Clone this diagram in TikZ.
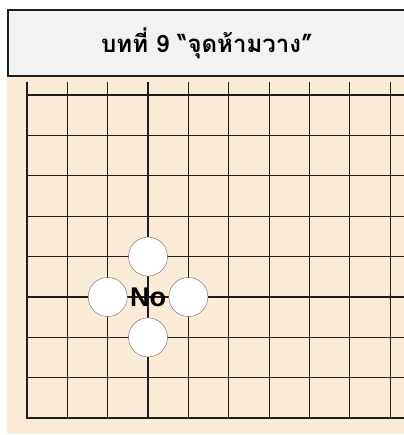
\documentclass[tikz,border=0pt]{standalone}
\usepackage{fontspec}
\setmainfont{Liberation Sans}
\newfontfamily\thaifont[Script=Thai]{Loma}
\usepackage{xcolor}
\usetikzlibrary{positioning}
\definecolor{plateau}{HTML}{FAEBD7}
\definecolor{titrefond}{HTML}{F2F2F2}
\definecolor{trait}{HTML}{1E1E1E}

\tikzset{
  pierre/.style={circle, draw=black!60, fill=white, minimum size=39pt, inner sep=0pt},
  ligne/.style={trait, line width=1.2pt}
}

\begin{document}
\begin{tikzpicture}[x=1pt, y=-1pt]
    \useasboundingbox (0,0) rectangle (403,435);
    % Titre
    \draw[fill=titrefond, draw=trait, line width=1.6pt] (8,10) rectangle (412,76);
    \node[font=\thaifont\bfseries\fontsize{24}{28}\selectfont] (titre) at (207,43) {บทที่ 9 “จุดห้ามวาง”};
    % Plateau
    \fill[plateau] (7,77) rectangle (412,434);
    \foreach \i in {0,...,9} {
      \draw[ligne] (27+40.35*\i, 82) -- (27+40.35*\i, 418);
    }
    \foreach \j in {0,...,8} {
      \draw[ligne] (27, 95+40.4*\j) -- (412, 95+40.4*\j);
    }
    \draw[trait, line width=2.2pt] (27,82) -- (27,418) -- (412,418);
    \fill[trait] (390.2,297) circle (1.8pt);
    % Pierres
    \node[pierre] (haut) at (148,256.6) {};
    \node[pierre] (gauche) at (107.7,297) {};
    \node[pierre] (droite) at (188.4,297) {};
    \node[pierre] (bas) at (148,337.4) {};
    \node[font=\bfseries\fontsize{27}{29}\selectfont, inner sep=0pt] (interdit) at (148,297) {No};
  \end{tikzpicture}
\end{document}
